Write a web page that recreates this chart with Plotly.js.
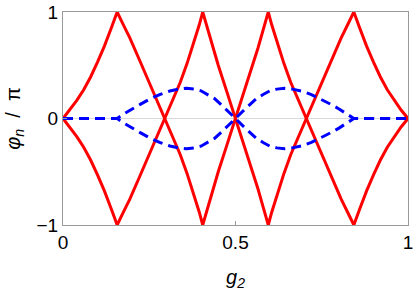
<!DOCTYPE html>
<html>
<head>
<meta charset="utf-8">
<script src="https://cdn.plot.ly/plotly-3.0.1.min.js"></script>
<style>html,body{margin:0;padding:0;background:#fff;overflow:hidden}#chart{width:415px;height:291px}</style>
</head>
<body>
<div id="chart"></div>
<script>
// Red solid branch (the second red branch is its mirror image, -y)
const redX = [0,0.02,0.04,0.06,0.08,0.10,0.12,0.14,0.157,
  0.175,0.194,0.222,0.25,0.28,0.295,0.32,0.34,0.36,0.38,0.395,0.405,
  0.42,0.435,0.45,0.475,0.5,0.525,0.55,0.565,0.58,0.595,
  0.605,0.62,0.64,0.66,0.68,0.705,0.72,0.75,0.778,0.806,0.825,0.843,
  0.86,0.88,0.90,0.92,0.94,0.96,0.98,1];
const redY = [0,0.08,0.17,0.27,0.39,0.53,0.68,0.85,1,
  0.88,0.755,0.547,0.34,0.115,0,-0.19,-0.34,-0.52,-0.72,-0.88,-1,
  -0.83,-0.66,-0.5,-0.25,0,0.25,0.5,0.66,0.83,1,
  0.88,0.72,0.52,0.34,0.19,0,-0.115,-0.34,-0.547,-0.755,-0.88,-1,
  -0.85,-0.68,-0.53,-0.39,-0.27,-0.17,-0.08,0];
// Blue dashed branch (the second blue branch is its mirror image, -y)
const blueX = [0,0.157,0.18,0.2,0.225,0.25,0.28,0.31,0.335,0.358,0.38,0.40,0.42,0.44,0.46,0.48,0.5,
  0.52,0.54,0.56,0.58,0.6,0.62,0.642,0.665,0.69,0.72,0.75,0.775,0.8,0.82,0.843,1];
const blueY = [0,0,0.05,0.09,0.135,0.18,0.225,0.258,0.276,0.283,0.276,0.26,0.225,0.185,0.125,0.065,0,
  0.065,0.125,0.185,0.225,0.26,0.276,0.283,0.276,0.258,0.225,0.18,0.135,0.09,0.05,0,0];
const xTickVals = [0,0.5,1];
const xTickText = ['0','0.5','1'];
const yTickVals = [-1,0,1];
const yTickText = ['\u22121','0','1'];

const neg = a => a.map(v => -v);
const redLine = {color:'#ff0000', width:3};
const blueLine = {color:'#0000ff', width:3, dash:'10px,6px'};
const traces = [
  {x:redX, y:redY, mode:'lines', line:redLine},
  {x:redX, y:neg(redY), mode:'lines', line:redLine},
  {x:blueX, y:blueY, mode:'lines', line:blueLine},
  {x:blueX, y:neg(blueY), mode:'lines', line:blueLine}
];
const axisCommon = {
  showgrid:false, showline:true, mirror:true, linecolor:'#999999', linewidth:1,
  ticks:'inside', ticklen:4, tickcolor:'#999999', tickwidth:1,
  tickfont:{size:19, color:'#000'}, fixedrange:true
};
const layout = {
  width:415, height:291,
  margin:{l:63, r:7, t:12, b:66},
  paper_bgcolor:'#fff', plot_bgcolor:'#fff',
  showlegend:false,
  font:{family:'Liberation Sans, Arial, sans-serif', color:'#000'},
  xaxis:Object.assign({}, axisCommon, {
    range:[0,1], tickvals:xTickVals, ticktext:xTickText, zeroline:false,
    title:{text:'<i>g</i><sub><i>2</i></sub>', font:{size:20}, standoff:18}
  }),
  yaxis:Object.assign({}, axisCommon, {
    range:[-1,1], tickvals:yTickVals, ticktext:yTickText,
    zeroline:true, zerolinecolor:'#d9d9d9', zerolinewidth:1.5,
    title:{text:'<i>\u03c6</i><sub><i>n</i></sub>  /  \u03c0', font:{size:20}, standoff:10}
  })
};
Plotly.newPlot('chart', traces, layout, {staticPlot:true, displayModeBar:false});
</script>
</body>
</html>
